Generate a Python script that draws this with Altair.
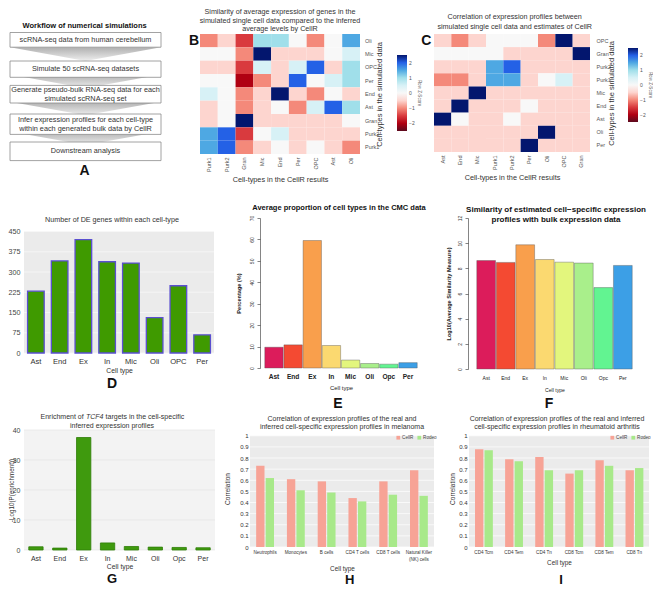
import altair as alt
import pandas as pd

FONT = "Liberation Sans"

# ======================= DATA =======================
# Panel A - workflow
workflow_title = "Workflow of numerical simulations"
workflow_steps = [
    "scRNA-seq data from human cerebellum",
    "Simulate 50 scRNA-seq datasets",
    "Generate pseudo-bulk RNA-seq data for each\nsimulated scRNA-seq set",
    "Infer expression profiles for each cell-type\nwithin each generated bulk data by CellR",
    "Downstream analysis",
]

b_title = ["Similarity of average expression of genes in the",
           "simulated single cell data compared to the inferred",
           "average levels by CellR"]
b_rows = ["Oli", "Mic", "OPC", "Per", "End", "Ast", "Gran", "Purk2", "Purk1"]
b_cols = ["Purk1", "Purk2", "Gran", "Mic", "End", "Per", "OPC", "Ast", "Oli"]
b_z = [
    [-1.0, -0.5, -1.5, 1.0, 1.0, 0.0, -1.0, 0.0, 1.5],
    [0.0, 0.0, -1.0, 2.5, -0.5, -0.5, -0.5, 0.0, 0.5],
    [-0.5, -0.5, -1.5, 0.5, -0.5, 0.5, 2.0, -0.5, 1.0],
    [0.0, 0.0, -2.0, -1.0, -0.5, 2.0, 0.0, 0.5, 1.0],
    [0.5, 0.0, -1.0, -0.5, 2.5, -0.5, -1.0, 0.0, -0.5],
    [-0.5, 0.0, -1.0, -0.5, 0.0, -1.0, 0.5, 2.0, 1.0],
    [-0.5, 0.0, 2.5, -0.5, -0.5, -0.5, -0.5, -0.5, 0.0],
    [1.5, 2.0, -1.5, 0.0, 0.5, -0.5, -0.5, -0.5, -0.5],
    [1.5, 2.0, -1.0, -0.5, 0.0, -0.5, 0.0, -0.5, -1.0],
]

# Panel C - heatmap
c_title = ["Correlation of expression profiles between",
           "simulated single cell data and estimates of CellR"]
c_rows = ["OPC", "Gran", "Purk2", "Purk1", "Mic", "End", "Ast", "Oli", "Per"]
c_cols = ["Ast", "End", "Mic", "Purk1", "Purk2", "Per", "Oli", "OPC", "Gran"]
c_z = [
    [-0.5, -1.0, -0.5, 0.0, 0.0, 0.0, -1.0, 2.5, -0.5],
    [0.0, 0.0, 0.0, 0.0, -0.5, -0.5, -0.5, -0.5, 2.5],
    [-0.5, -0.5, -0.5, 1.5, 2.0, -0.5, -0.5, -0.5, -0.5],
    [-1.0, -1.0, -0.5, 1.5, 1.5, -0.5, 0.0, 0.5, -0.5],
    [-0.5, -0.5, 2.5, -0.5, -0.5, -0.5, -0.5, -0.5, -0.5],
    [-0.5, 2.5, -0.5, -0.5, -0.5, 0.0, -0.5, -0.5, -0.5],
    [2.5, 0.0, -0.5, -0.5, 0.0, -0.5, -0.5, -0.5, -0.5],
    [-0.5, -0.5, -0.5, -0.5, -0.5, -0.5, 2.5, -0.5, -0.5],
    [-0.5, -0.5, -0.5, -0.5, -0.5, 2.5, -0.5, -0.5, -0.5],
]
z_stops = [-2.5, -2, -1.5, -1, -0.5, 0, 0.5, 1, 1.5, 2, 2.5]
z_colors = ["#5c0a1e", "#b00012", "#d93a3e", "#f4897a", "#fdd5cf", "#f8f8f8",
            "#d7f1f6", "#a0dfea", "#4ea8e3", "#2461e6", "#03166e"]
z_ticks = [-2, -1, 0, 1, 2]

# Panel D
d_title = "Number of DE genes within each cell-type"
d_cells = ["Ast", "End", "Ex", "In", "Mic", "Oli", "OPC", "Per"]
d_counts = [229, 341, 420, 338, 333, 131, 249, 67]
d_ticks = [0, 75, 150, 225, 300, 375, 450]

# Panels E, F, G
cells8 = ["Ast", "End", "Ex", "In", "Mic", "Oli", "Opc", "Per"]
cell_colors = ["#dc1c5b", "#f44a32", "#f99f4c", "#fbd970", "#e3f67d",
               "#a9ef8b", "#62f491", "#3c9fe6"]
e_title = "Average proportion of cell types in the CMC data"
e_pct = [9.7, 10.8, 59.5, 10.5, 3.7, 2.1, 1.8, 2.5]
e_ticks = [0, 10, 20, 30, 40, 50, 60, 70]
f_title = "Similarity of estimated cell\u2212specific expression\nprofiles with bulk expression data"
f_sim = [8.62, 8.47, 9.87, 8.70, 8.49, 8.42, 6.47, 8.23]
f_ticks = [0, 2, 4, 6, 8, 10, 12]
g_title_parts = ["Enrichment of", "TCF4", "targets in the cell-specific"]
g_title_line2 = "inferred expression profiles"
g_logp = [1.07, 0.64, 37.5, 2.35, 1.17, 0.96, 0.85, 0.75]
g_ticks = [0, 10, 20, 30, 40]

# Panels H, I
methods = ["CellR", "Rodeo"]
method_colors = ["#f7a396", "#a8e98a"]
corr_ticks = [round(i / 10, 1) for i in range(11)]
h_title = "Correlation of expression profiles of the real and\ninferred cell-specific expression profiles in melanoma"
h_types = ["Neutrophils", "Monocytes", "B cells", "CD4 T cells", "CD8 T cells",
           "Natural Killer (NK) cells"]
h_cellr = [0.73, 0.61, 0.59, 0.44, 0.59, 0.69]
h_rodeo = [0.62, 0.51, 0.49, 0.41, 0.47, 0.46]
i_title = "Correlation of expression profiles of the real and inferred\ncell-specific expression profiles in rheumatoid arthritis"
i_types = ["CD4 Tcm", "CD4 Tem", "CD4 Tn", "CD8 Tcm", "CD8 Tem", "CD8 Tn"]
i_cellr = [0.88, 0.79, 0.81, 0.66, 0.78, 0.69]
i_rodeo = [0.87, 0.77, 0.69, 0.69, 0.73, 0.71]

# ======================= LAYOUT (px, panel relative) =======================
box_top = [-1.5, 27, 51.4, 80, 108]
box_bottom = [13.2, 43.3, 69, 100.4, 126.6]


def one(**kw):
    return alt.Chart(pd.DataFrame({k: [v] for k, v in kw.items()} if kw else {"k": [0]}))


def frame(top, bottom, left=-16, right=622):
    return one().mark_rect(opacity=0).encode(
        x=alt.value(left), x2=alt.value(right), y=alt.value(top), y2=alt.value(bottom))


def letter(ch, x, y, size=14):
    return one(t=ch).mark_text(fontSize=size, fontWeight="bold", color="#111",
                               align="center", baseline="middle").encode(
        text="t:N", x=alt.value(x), y=alt.value(y))


def label(txt, x, y, size, weight="normal", lh=9.0, color="#333", align="center",
          style="normal"):
    # y is the vertical centre of the whole text block
    n = txt.count("\n") + 1
    return one(t=txt).mark_text(fontSize=size, fontWeight=weight, color=color,
                                lineBreak="\n", lineHeight=lh, fontStyle=style,
                                align=align, baseline="middle").encode(
        text="t:N", x=alt.value(x), y=alt.value(y - (n - 1) * lh / 2))


# ----------------------- Panel A -----------------------
A_LH = 8.8
a_df = pd.DataFrame({"step": workflow_steps, "top": box_top, "bottom": box_bottom})
a_df["ty"] = [(t + b) / 2 - (s.count("\n")) * A_LH / 2
              for t, b, s in zip(box_top, box_bottom, workflow_steps)]
arrow_df = pd.DataFrame({"ay": [(b + t) / 2 for b, t in zip(box_bottom[:-1], box_top[1:])]})
grad = alt.LinearGradient(gradient="linear",
                          stops=[alt.GradientStop(color="#b0b0b0", offset=0),
                                 alt.GradientStop(color="#eeeeee", offset=1)],
                          x1=0, x2=0, y1=0, y2=1)
a_arrows = alt.Chart(arrow_df).mark_point(
    shape="M-1,-0.09L1,-0.09L0,0.09Z", filled=True, size=22801, fill=grad,
    strokeWidth=0, opacity=1).encode(
    x=alt.value(61.5), y=alt.Y("ay:Q", scale=None, axis=None))
a_boxes = alt.Chart(a_df).mark_rect(fill="white", stroke="#8c8c8c", strokeWidth=0.8).encode(
    x=alt.value(-14), x2=alt.value(137),
    y=alt.Y("top:Q", scale=None, axis=None), y2="bottom:Q")
a_text = alt.Chart(a_df).mark_text(fontSize=7.3, color="#333", lineBreak="\n",
                                   lineHeight=A_LH, align="center", baseline="middle").encode(
    x=alt.value(61.5), y=alt.Y("ty:Q", scale=None, axis=None), text="step:N")
panel_a = alt.layer(
    frame(-25, 165), a_arrows, a_boxes, a_text,
    label(workflow_title, 60.6, -8.3, 7.5, "bold", color="#111"),
    letter("A", 60.6, 136.7),
).properties(width=102, height=120)


# ----------------------- Heatmaps -----------------------
def heatmap(rows, cols, z, title, w, h, ylab_pad, leg_x, leg_y, leg_len,
            ch, lx, ly, tx, ty, tlh):
    df = pd.DataFrame([{"row": r, "col": c, "z": z[i][j]}
                       for i, r in enumerate(rows) for j, c in enumerate(cols)])
    cells = alt.Chart(df).mark_rect().encode(
        x=alt.X("col:N", sort=cols, axis=alt.Axis(
            title="Cell-types in the CellR results", labelAngle=270, labelFontSize=5.5,
            labelColor="#555", domain=False, ticks=False, labelPadding=3,
            titleFontSize=7.3, titleColor="#333", titlePadding=4)),
        y=alt.Y("row:N", sort=rows, axis=alt.Axis(
            orient="right", title="Cell-types in the simulated data", labelFontSize=5.5,
            labelColor="#555", domain=False, ticks=False, labelPadding=ylab_pad,
            titleFontSize=7.5, titleColor="#333", titleAngle=270, titlePadding=5)),
        color=alt.Color("z:Q", scale=alt.Scale(domain=z_stops, range=z_colors),
                        legend=alt.Legend(
                            orient="none", legendX=leg_x, legendY=leg_y,
                            direction="vertical", gradientLength=leg_len,
                            gradientThickness=10, values=z_ticks, labelFontSize=5,
                            labelColor="#555", labelOffset=2, title="Row Z-Score",
                            titleOrient="right", titleFontSize=4.5,
                            titleFontWeight="normal", titleColor="#555", titlePadding=2,
                            gradientStrokeWidth=0)),
    )
    return alt.layer(cells, label("\n".join(title), tx, ty, 7.2, lh=tlh),
                     letter(ch, lx, ly)).properties(width=w, height=h)


panel_b = heatmap(b_rows, b_cols, b_z, b_title, 160, 120, 4.5, 197, 21, 76,
                  "B", -6, 7.3, 80, -13.4, 8.3)
panel_c = heatmap(c_rows, c_cols, c_z, c_title, 156, 118, 6, 194, 14, 74,
                  "C", -7.7, 7.3, 80.7, -12.2, 9.6)

# ----------------------- Panel D -----------------------
d_df = pd.DataFrame({"cell": d_cells, "n": d_counts})
d_y_scale = alt.Scale(domain=[0, 500], nice=False, zero=True)
d_y_axis = alt.Axis(values=d_ticks, title=None, grid=False, domain=False, ticks=False,
                    labelFontSize=7.2, labelColor="#444", labelPadding=4)
d_bg = one().mark_rect(color="#ebebeb").encode(
    x=alt.value(0), x2=alt.value(190),
    y=alt.Y(datum=450, type="quantitative", scale=d_y_scale, axis=d_y_axis),
    y2=alt.Y2(datum=0))
d_grid = alt.Chart(pd.DataFrame({"v": d_ticks})).mark_rule(color="#f7f7f7", strokeWidth=0.8).encode(
    y=alt.Y("v:Q", scale=d_y_scale, axis=d_y_axis))
d_bars = alt.Chart(d_df).mark_bar(color="#3f9a00", stroke="#5a4fd0", strokeWidth=1.3).encode(
    x=alt.X("cell:N", sort=d_cells, scale=alt.Scale(paddingInner=0.3, paddingOuter=0.15),
            axis=alt.Axis(title="Cell type", labelAngle=0, labelFontSize=7.6, labelColor="#333",
                          domain=False, ticks=False, labelPadding=4, titleFontSize=6.8,
                          titleColor="#333", titlePadding=3)),
    y=alt.Y("n:Q", scale=d_y_scale, axis=d_y_axis))
panel_d = alt.layer(
    frame(-19, 177), d_bg, d_grid, d_bars,
    label(d_title, 88, 1.7, 7.2), letter("D", 88, 166.3),
).properties(width=190, height=135)


# ----------------------- Panels E, F (R style) -----------------------
def rbar(values, ticks, ymax, ytitle, w, h, po, lab_size, lab_weight, lab_pad,
         ttl_pad, xt_size, xt_pad):
    df = pd.DataFrame({"cell": cells8, "v": values})
    return alt.Chart(df).mark_bar(stroke="#555", strokeWidth=0.4).encode(
        x=alt.X("cell:N", sort=cells8, scale=alt.Scale(paddingInner=0.04, paddingOuter=po),
                axis=alt.Axis(title="Cell type", labelAngle=0, labelFontSize=lab_size,
                              labelFontWeight=lab_weight, labelColor="#222", domain=False,
                              ticks=False, labelPadding=lab_pad, titleFontSize=xt_size,
                              titleColor="#222", titlePadding=xt_pad)),
        y=alt.Y("v:Q", scale=alt.Scale(domain=[0, ymax], nice=False),
                axis=alt.Axis(values=ticks, title=ytitle, labelAngle=270, labelAlign="center",
                              labelBaseline="bottom", labelFontSize=5, labelPadding=2.7,
                              labelColor="#333", tickSize=3, tickColor="#333", tickWidth=0.6,
                              domainColor="#333", domainWidth=0.6, grid=False,
                              titleFontSize=5.6, titleFontWeight="bold", titleColor="#222",
                              titlePadding=ttl_pad)),
        color=alt.Color("cell:N", scale=alt.Scale(domain=cells8, range=cell_colors), legend=None),
    ).properties(width=w, height=h)


panel_e = alt.layer(
    rbar(e_pct, e_ticks, 70, "Percentage (%)", 162, 150, 0.25, 6.6, "bold", 5, 8, 5.9, 5),
    label(e_title, 79, -10, 7.5, "bold", color="#111"),
).properties(width=162, height=150)

panel_f = alt.layer(
    rbar(f_sim, f_ticks, 12, "Log10(Average Similarity Measure)", 173, 151, 0.45, 5, "normal",
         6, 5.6, 5.1, 7),
    label(f_title, 88, -3.2, 8, "bold", lh=9.8, color="#111"),
).properties(width=173, height=151)

# ----------------------- Panel G -----------------------
G_H = 120
g_df = pd.DataFrame({"cell": cells8, "v": g_logp})
g_y_scale = alt.Scale(domain=[0, 40], nice=False)
g_y_axis = alt.Axis(values=g_ticks, title="-Log10(P(enrichment))", grid=False, domain=False,
                    ticks=False, labelFontSize=7, labelColor="#444", labelPadding=4,
                    titleFontSize=6.3, titleColor="#333", titleX=-13, titleY=G_H / 2,
                    titleAngle=270, titleAlign="center", titleBaseline="middle")
g_bg = one().mark_rect(color="#f3f3f3").encode(
    x=alt.value(0), x2=alt.value(191),
    y=alt.Y(datum=40, type="quantitative", scale=g_y_scale, axis=g_y_axis), y2=alt.Y2(datum=0))
g_grid = alt.Chart(pd.DataFrame({"v": g_ticks})).mark_rule(color="#e2e2e2", strokeWidth=0.6).encode(
    y=alt.Y("v:Q", scale=g_y_scale, axis=g_y_axis))
g_bars = alt.Chart(g_df).mark_bar(color="#3f9a0e", stroke="#2e7d07", strokeWidth=0.8).encode(
    x=alt.X("cell:N", sort=cells8, scale=alt.Scale(paddingInner=0.4, paddingOuter=0.2),
            axis=alt.Axis(title="Cell type", labelAngle=0, labelFontSize=7, labelColor="#333",
                          domain=False, ticks=False, labelPadding=4, titleFontSize=6.8,
                          titleColor="#333", titlePadding=2)),
    y=alt.Y("v:Q", scale=g_y_scale, axis=g_y_axis))
# first title line with italic gene name (Arial metrics at 7px, space = 1.95px)
G_L1_Y, G_L2_Y = -13.3, -4.5
g_x0 = 16.5 + 43.2          # right end of "Enrichment of"
g_x1 = g_x0 + 2.2           # start of italic "TCF4"
g_x2 = g_x1 + 17.5 + 2.2    # start of "targets ..."
panel_g = alt.layer(
    frame(-35, 150), g_bg, g_grid, g_bars,
    label(g_title_parts[0], g_x0, G_L1_Y, 7, align="right"),
    label(g_title_parts[1], g_x1, G_L1_Y, 7, align="left", style="italic"),
    label(g_title_parts[2], g_x2, G_L1_Y, 7, align="left"),
    label(g_title_line2, 88, G_L2_Y, 7),
    letter("G", 88, 149, 13),
).properties(width=191, height=G_H)


# ----------------------- Panels H, I -----------------------
def corr_panel(types, cellr, rodeo, title, w, h, ytitle_pad, leg_x, tx, extra):
    df = pd.DataFrame({"type": types * 2,
                       "method": ["CellR"] * len(types) + ["Rodeo"] * len(types),
                       "v": cellr + rodeo})
    ys = alt.Scale(domain=[0, 1.052], nice=False)
    ya = alt.Axis(values=corr_ticks, format="~g", title="Correlation", grid=False,
                  domain=False, ticks=False, labelFontSize=6, labelColor="#333",
                  labelPadding=2, titleFontSize=6.5, titleColor="#333",
                  titlePadding=ytitle_pad)
    bg = one().mark_rect(color="#ebebeb").encode(
        x=alt.value(0), x2=alt.value(w),
        y=alt.Y(datum=1, type="quantitative", scale=ys, axis=ya), y2=alt.Y2(datum=0))
    grid = alt.Chart(pd.DataFrame({"v": corr_ticks})).mark_rule(color="white", strokeWidth=0.7).encode(
        y=alt.Y("v:Q", scale=ys, axis=ya))
    bars = alt.Chart(df).mark_bar().encode(
        x=alt.X("type:N", sort=types, scale=alt.Scale(paddingInner=0.42, paddingOuter=0.2),
                axis=alt.Axis(title="Cell type", labelAngle=0, labelFontSize=4.6,
                              labelColor="#333", domain=False, ticks=False, labelPadding=2.5,
                              titleFontSize=6.4, titleColor="#333", titlePadding=5,
                              labelExpr="datum.value == 'Natural Killer (NK) cells' ? "
                                        "['Natural Killer', '(NK) cells'] : datum.label")),
        xOffset=alt.XOffset("method:N", sort=methods, scale=alt.Scale(paddingInner=0.12)),
        y=alt.Y("v:Q", scale=ys, axis=ya),
        color=alt.Color("method:N", scale=alt.Scale(domain=methods, range=method_colors),
                        legend=alt.Legend(orient="none", legendX=leg_x, legendY=5,
                                          direction="horizontal", title=None,
                                          symbolType="square", symbolSize=14,
                                          symbolStrokeWidth=0, labelFontSize=4.6,
                                          labelColor="#444", columnPadding=3,
                                          labelOffset=1.5, padding=0)),
    )
    return alt.layer(bg, grid, bars, label(title, tx, -7, 7, lh=8.9), *extra).properties(
        width=w, height=h)


panel_h = corr_panel(h_types, h_cellr, h_rodeo, h_title, 184, 117, 9, 146, 92,
                     [letter("E", 88, -26), letter("H", 99.7, 150, 13)])
panel_i = corr_panel(i_types, i_cellr, i_rodeo, i_title, 180, 117, 3, 141, 88,
                     [letter("F", 80, -26), letter("I", 92, 150, 13)])

# ----------------------- Assemble -----------------------
row1 = alt.hconcat(panel_a, panel_b, panel_c, spacing=74, bounds="flush").resolve_scale(
    color="independent").resolve_legend(color="independent")
row2 = alt.hconcat(panel_d, panel_e, panel_f, spacing=46, bounds="flush")
row3 = alt.hconcat(panel_g, panel_h, panel_i, spacing=35, bounds="flush").resolve_scale(
    color="independent").resolve_legend(color="independent")

chart = alt.vconcat(row1, row2, row3, spacing=0, padding=0, background="white").configure(
    font=FONT).configure_view(stroke=None).configure_axis(
    labelFont=FONT, titleFont=FONT, titleFontWeight="normal").configure_text(font=FONT)

chart.save("out.html", embed_options={"renderer": "svg", "actions": False})
